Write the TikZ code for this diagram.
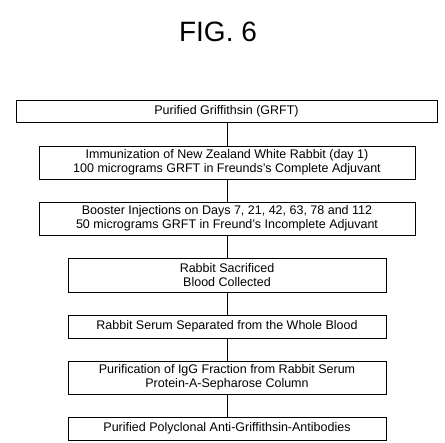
\documentclass[tikz,border=0pt]{standalone}
\usepackage{fontspec}
\setmainfont{Liberation Sans}
\begin{document}
\begin{tikzpicture}[x=1pt,y=1pt,
  stepbox/.style={draw, line width=0.8pt, inner sep=0pt, align=center, font=\fontsize{12.5}{14}\selectfont},
  link/.style={line width=0.8pt}]
\useasboundingbox (0,0) rectangle (445,443);
\node (title) at (218,411) {\fontsize{28}{30}\selectfont FIG. 6};
\node[stepbox, minimum width=421pt, minimum height=22pt] (b1) at (226.5,332) {Purified Griffithsin (GRFT)};
\node[stepbox, minimum width=376pt, minimum height=33pt] (b2) at (227,280.5) {Immunization of New Zealand White Rabbit (day 1)\\100 micrograms GRFT in Freunds's Complete Adjuvant};
\node[stepbox, minimum width=376pt, minimum height=33pt] (b3) at (227,224.5) {Booster Injections on Days 7, 21, 42, 63, 78 and 112\\50 micrograms GRFT in Freund's Incomplete Adjuvant};
\node[stepbox, minimum width=318pt, minimum height=34pt] (b4) at (227,168) {Rabbit Sacrificed\\Blood Collected};
\node[stepbox, minimum width=318pt, minimum height=23pt] (b5) at (227,116.5) {Rabbit Serum Separated from the Whole Blood};
\node[stepbox, minimum width=318pt, minimum height=33pt] (b6) at (227,65.5) {Purification of IgG Fraction from Rabbit Serum\\Protein-A-Sepharose Column};
\node[stepbox, minimum width=318pt, minimum height=23pt] (b7) at (227,14.5) {Purified Polyclonal Anti-Griffithsin-Antibodies};
\draw[link] (b2.north |- b1.south) -- (b2.north);
\draw[link] (b2.south) -- (b3.north);
\draw[link] (b3.south) -- (b4.north);
\draw[link] (b4.south) -- (b5.north);
\draw[link] (b5.south) -- (b6.north);
\draw[link] (b6.south) -- (b7.north);
\end{tikzpicture}
\end{document}
